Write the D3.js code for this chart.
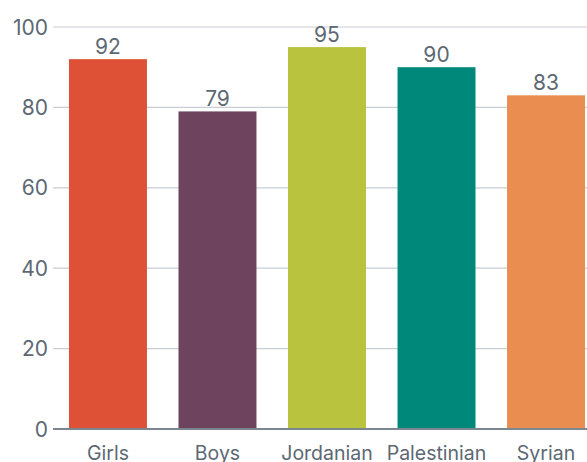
<!DOCTYPE html>
<html>
<head>
<meta charset="utf-8">
<script src="https://cdn.jsdelivr.net/npm/d3@7"></script>
<style>
  body { margin: 0; background: #fff; }
  text { font-family: "Inter", "Liberation Sans", sans-serif; fill: #5c6873; }
</style>
</head>
<body>
<svg id="chart" width="587" height="462"></svg>
<script>
var categories = ["Girls", "Boys", "Jordanian", "Palestinian", "Syrian"];
var values = [92, 79, 95, 90, 83];
var colors = ["#de5137", "#6d435e", "#b9c33e", "#00887a", "#e98d50"];
var yTicks = [0, 20, 40, 60, 80, 100];

var svg = d3.select("#chart");

var x = d3.scaleBand()
    .domain(categories)
    .range([53, 601])
    .paddingInner(0.288)
    .paddingOuter(0.146);

var y = d3.scaleLinear()
    .domain([0, 100])
    .range([429, 27]);

// grid lines
svg.append("g")
    .selectAll("line")
    .data(yTicks.filter(function (d) { return d > 0; }))
    .enter()
    .append("line")
    .attr("x1", 53)
    .attr("x2", 587)
    .attr("y1", function (d) { return y(d); })
    .attr("y2", function (d) { return y(d); })
    .attr("stroke", "#c9ced3")
    .attr("stroke-width", 1.2);

// y tick labels
svg.append("g")
    .selectAll("text")
    .data(yTicks)
    .enter()
    .append("text")
    .attr("x", 48)
    .attr("y", function (d) { return y(d); })
    .attr("dy", "0.36em")
    .attr("text-anchor", "end")
    .attr("font-size", 21)
    .text(function (d) { return d; });

// bars
svg.append("g")
    .selectAll("rect")
    .data(categories)
    .enter()
    .append("rect")
    .attr("x", function (d) { return x(d); })
    .attr("y", function (d, i) { return y(values[i]); })
    .attr("width", x.bandwidth())
    .attr("height", function (d, i) { return y(0) - y(values[i]); })
    .attr("fill", function (d, i) { return colors[i]; });

// value labels
svg.append("g")
    .selectAll("text")
    .data(categories)
    .enter()
    .append("text")
    .attr("x", function (d) { return x(d) + x.bandwidth() / 2; })
    .attr("y", function (d, i) { return y(values[i]) - 5; })
    .attr("text-anchor", "middle")
    .attr("font-size", 21)
    .text(function (d, i) { return values[i]; });

// baseline
svg.append("line")
    .attr("x1", 53)
    .attr("x2", 587)
    .attr("y1", y(0))
    .attr("y2", y(0))
    .attr("stroke", "#7b8691")
    .attr("stroke-width", 2);

// category labels
svg.append("g")
    .selectAll("text")
    .data(categories)
    .enter()
    .append("text")
    .attr("x", function (d) { return x(d) + x.bandwidth() / 2; })
    .attr("y", 460)
    .attr("text-anchor", "middle")
    .attr("font-size", 19.5)
    .text(function (d) { return d; });
</script>
</body>
</html>
